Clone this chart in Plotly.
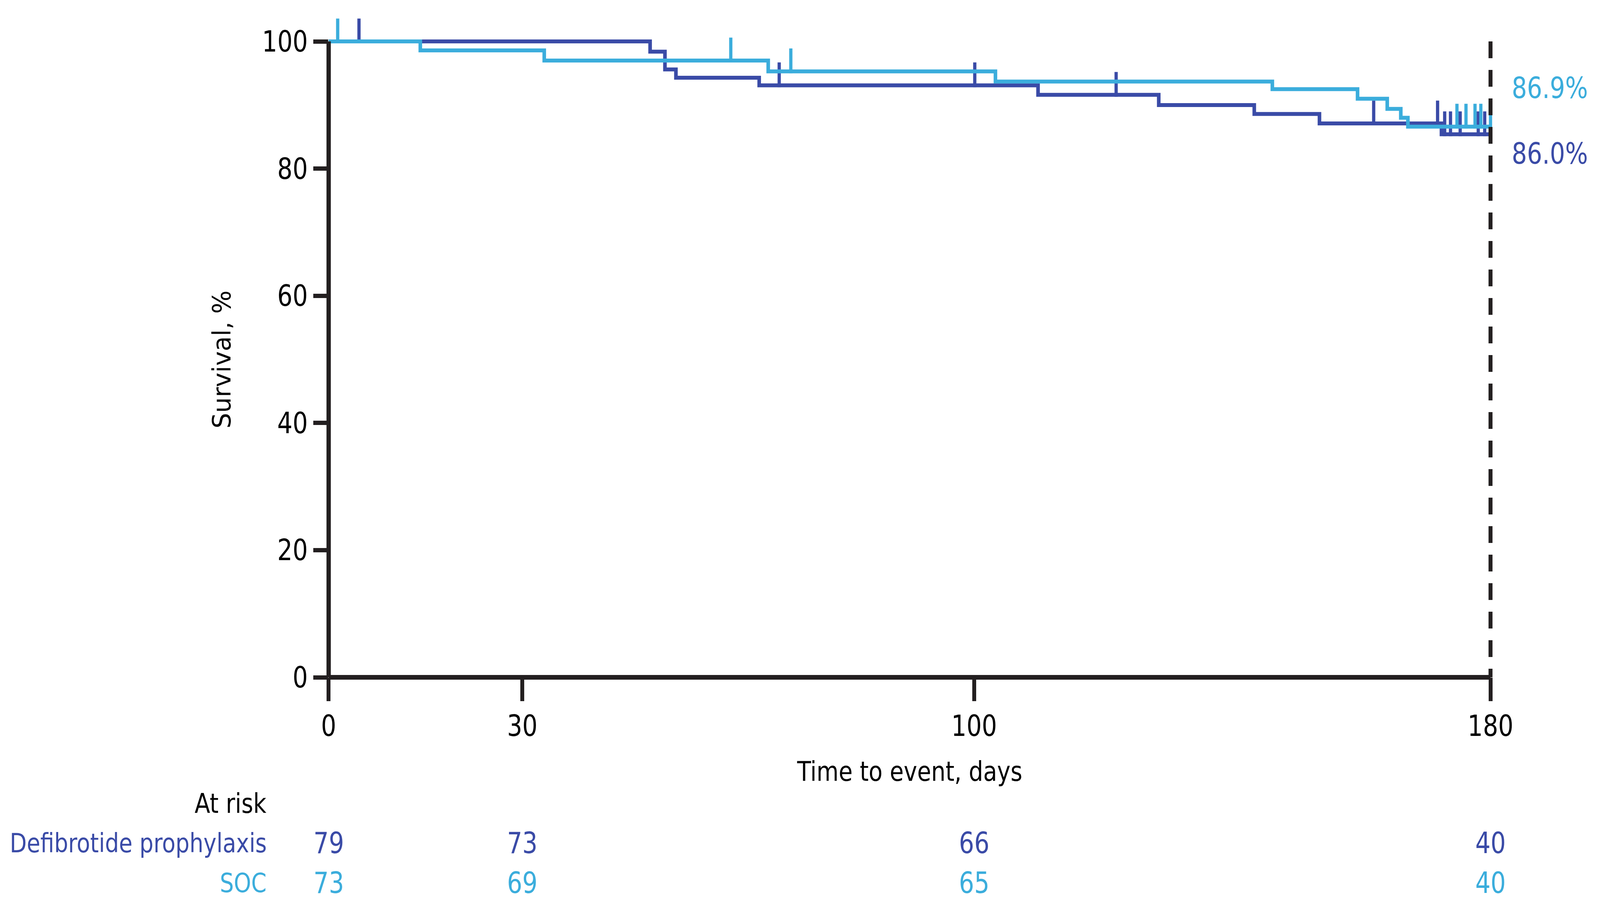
import plotly.graph_objects as go

# ---------------- data ----------------
group_names = ["Defibrotide prophylaxis", "SOC"]

dfp_event_days = [49.8, 52.1, 53.8, 66.7, 109.9, 128.6, 143.4, 153.5, 172.4]
dfp_surv = [98.4, 95.6, 94.3, 93.1, 91.6, 90.0, 88.6, 87.1, 85.4]
dfp_censor_days = [4.7, 69.8, 100.1, 122.0, 161.9, 171.8, 172.9, 173.8, 175.3, 178.1, 179.1]

soc_event_days = [14.2, 33.4, 68.1, 103.3, 146.2, 159.4, 164.0, 166.1, 167.2]
soc_surv = [98.6, 97.0, 95.3, 93.7, 92.5, 91.0, 89.4, 88.0, 86.6]
soc_censor_days = [1.4, 62.3, 71.6, 174.8, 176.2, 177.6, 178.5, 180.0]

final_labels = ["86.0%", "86.9%"]

risk_times = [0, 30, 100, 180]
dfp_at_risk = [79, 73, 66, 40]
soc_at_risk = [73, 69, 65, 40]

x_ticks = [0, 30, 100, 180]
y_ticks = [0, 20, 40, 60, 80, 100]
x_end = 180

# ---------------- styling ----------------
DARK = "#3A4BA7"
LIGHT = "#3BADDC"
AXIS = "#231F20"
FONT = "DejaVu Sans Condensed, Liberation Sans Narrow, sans-serif"
FS_NUM = 74
FS_WORD = 70
FS_GROUP = 68

W, H = 4440, 2322
X_RANGE = [0, 182]
Y_RANGE = [0, 104]
L, R, T, B = 912, 268, 41, 588
PW = W - L - R
PH = H - T - B


def py(pixel_y):
    """pixel row -> paper y"""
    return (H - B - pixel_y) / PH


def px(pixel_x):
    return (pixel_x - L) / PW


def level(events, surv, t):
    s = 100.0
    for e, v in zip(events, surv):
        if e <= t:
            s = v
    return s


def censor_segments(events, surv, censors, up=3.6, down=0.3):
    xs, ys = [], []
    for c in censors:
        s = level(events, surv, c)
        xs += [c, c, None]
        ys += [s - down, s + up, None]
    return xs, ys


fig = go.Figure()

series = [
    (group_names[0], dfp_event_days, dfp_surv, dfp_censor_days, DARK),
    (group_names[1], soc_event_days, soc_surv, soc_censor_days, LIGHT),
]

for name, ev, sv, cens, col in series:
    fig.add_trace(go.Scatter(
        x=[0] + ev + [x_end], y=[100] + sv + [sv[-1]],
        mode="lines", line=dict(color=col, width=10, shape="hv"),
        name=name, showlegend=False, hoverinfo="skip"))
    cx, cy = censor_segments(ev, sv, cens)
    fig.add_trace(go.Scatter(
        x=cx, y=cy, mode="lines", line=dict(color=col, width=9),
        showlegend=False, hoverinfo="skip", connectgaps=False))

# axis lines (stop exactly at 100 % and at 180 days)
fig.add_shape(type="line", xref="paper", yref="paper",
              x0=0, x1=x_end / X_RANGE[1], y0=0, y1=0,
              line=dict(color=AXIS, width=12), layer="above")
fig.add_shape(type="line", xref="paper", yref="paper",
              x0=0, x1=0, y0=0, y1=100 / Y_RANGE[1],
              line=dict(color=AXIS, width=12), layer="above")
# dashed 180-day line
fig.add_shape(type="line", xref="x", yref="y",
              x0=x_end, x1=x_end, y0=100, y1=0,
              line=dict(color=AXIS, width=11, dash="43px,30px"), layer="above")

annos = []
# final percentages
annos.append(dict(x=x_end, xref="x", xshift=57, y=py(393), yref="paper",
                  text=final_labels[0], showarrow=False, xanchor="left", yanchor="middle",
                  font=dict(family=FONT, size=FS_NUM, color=DARK)))
annos.append(dict(x=x_end, xref="x", xshift=57, y=py(225), yref="paper",
                  text=final_labels[1], showarrow=False, xanchor="left", yanchor="middle",
                  font=dict(family=FONT, size=FS_NUM, color=LIGHT)))
# axis titles
annos.append(dict(x=0.5 * x_end / X_RANGE[1], xref="paper", y=py(1975), yref="paper",
                  text="Time to event, days", showarrow=False, xanchor="center", yanchor="middle",
                  font=dict(family=FONT, size=FS_WORD, color="black")))
annos.append(dict(x=px(616), xref="paper", y=py(920), yref="paper",
                  text="Survival, %", showarrow=False, textangle=-90,
                  xanchor="center", yanchor="middle",
                  font=dict(family=FONT, size=FS_WORD, color="black")))
# at-risk table
annos.append(dict(x=px(742), xref="paper", y=py(2057), yref="paper", text="At risk",
                  showarrow=False, xanchor="right", yanchor="middle",
                  font=dict(family=FONT, size=FS_WORD, color="black")))
for name, counts, col, yrow in [(group_names[0], dfp_at_risk, DARK, 2158),
                                (group_names[1], soc_at_risk, LIGHT, 2260)]:
    annos.append(dict(x=px(742), xref="paper", y=py(yrow), yref="paper", text=name,
                      showarrow=False, xanchor="right", yanchor="middle",
                      font=dict(family=FONT, size=FS_GROUP, color=col)))
    for t, n in zip(risk_times, counts):
        annos.append(dict(x=t, xref="x", y=py(yrow), yref="paper", text=str(n),
                          showarrow=False, xanchor="center", yanchor="middle",
                          font=dict(family=FONT, size=FS_NUM, color=col)))

fig.update_layout(
    width=W, height=H, autosize=False,
    margin=dict(l=L, r=R, t=T, b=B, pad=0),
    paper_bgcolor="white", plot_bgcolor="white",
    font=dict(family=FONT, size=FS_NUM, color="black"),
    annotations=annos,
    xaxis=dict(range=X_RANGE, tickvals=x_ticks, ticks="outside", ticklen=60,
               tickwidth=11, tickcolor=AXIS, showline=False, showgrid=False,
               zeroline=False, tickfont=dict(family=FONT, size=FS_NUM, color="black")),
    yaxis=dict(range=Y_RANGE, tickvals=y_ticks, ticks="outside", ticklen=42,
               tickwidth=11, tickcolor=AXIS, showline=False, showgrid=False,
               zeroline=False, tickfont=dict(family=FONT, size=FS_NUM, color="black")),
)

# keep the whole 4440x2322 figure inside the browser's visible area
fit_js = """
(function () {
  var gd = document.getElementById('{plot_id}');
  document.documentElement.style.margin = '0';
  document.body.style.margin = '0';
  document.documentElement.style.overflow = 'hidden';
  document.body.style.overflow = 'hidden';
  var kx = Math.min(1, window.innerWidth / 4440);
  var ky = Math.min(1, window.innerHeight / 2322);
  if (kx < 1 || ky < 1) {
    gd.style.transformOrigin = '0 0';
    gd.style.transform = 'scale(' + kx + ',' + ky + ')';
    var p = gd.parentElement;
    p.style.width = (4440 * kx) + 'px';
    p.style.height = (2322 * ky) + 'px';
    p.style.overflow = 'hidden';
  }
})();
"""

fig.write_html("out.html", post_script=fit_js,
               config={"displayModeBar": False, "displaylogo": False, "staticPlot": True})
